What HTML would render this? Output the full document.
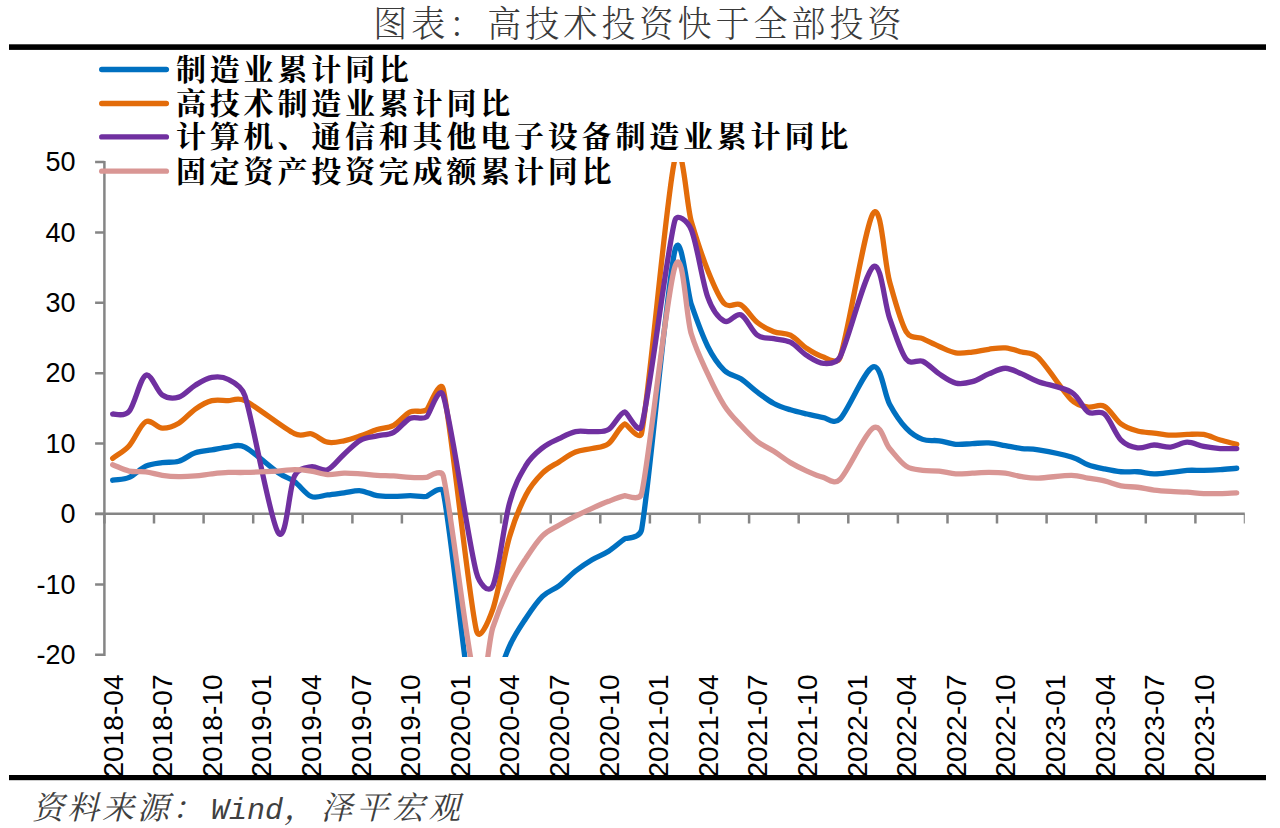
<!DOCTYPE html>
<html lang="zh-CN"><head><meta charset="utf-8"><title>图表：高技术投资快于全部投资</title>
<style>html,body{margin:0;padding:0;background:#fff}body{width:1280px;height:828px;overflow:hidden}svg{display:block}.num{font-family:"Liberation Sans",sans-serif;fill:#000}.kai{font-family:"Liberation Serif","Noto Serif CJK SC",serif}</style></head><body>
<svg width="1280" height="828" viewBox="0 0 1280 828">
<rect width="1280" height="828" fill="#fff"/>
<text class="kai" transform="translate(373.2 36.7) scale(1 1.06)" font-size="34" font-weight="300" fill="#3a3a3a" letter-spacing="4.05">图表：高技术投资快于全部投资</text>
<rect x="9" y="44.3" width="1257" height="5.6" fill="#000"/>
<rect x="9" y="775" width="1257" height="5.2" fill="#000"/>
<text class="kai" y="819" font-size="32" font-style="italic" fill="#404040" letter-spacing="3.0"><tspan x="32">资料来源：</tspan><tspan x="211" font-family="Liberation Mono,monospace" font-size="30" letter-spacing="0">Wind</tspan><tspan x="284">，</tspan><tspan x="320.5" letter-spacing="3.9">泽平宏观</tspan></text>
<clipPath id="axclip"><rect x="0" y="0" width="1244.8" height="828"/></clipPath>
<g stroke="#858585" stroke-width="2.5" fill="none" clip-path="url(#axclip)">
<path d="M104.4 161V656"/>
<path d="M95.1 513.8H1246.0"/>
<path d="M95.1 654.8H104.4M95.1 584.4H104.4M95.1 514.0H104.4M95.1 443.6H104.4M95.1 373.2H104.4M95.1 302.8H104.4M95.1 232.4H104.4M95.1 162.0H104.4M104.4 514.0V523.6M154.0 514.0V523.6M203.6 514.0V523.6M253.2 514.0V523.6M302.8 514.0V523.6M352.4 514.0V523.6M401.9 514.0V523.6M451.5 514.0V523.6M501.1 514.0V523.6M550.7 514.0V523.6M600.3 514.0V523.6M649.9 514.0V523.6M699.5 514.0V523.6M749.1 514.0V523.6M798.7 514.0V523.6M848.3 514.0V523.6M897.9 514.0V523.6M947.5 514.0V523.6M997.0 514.0V523.6M1046.6 514.0V523.6M1096.2 514.0V523.6M1145.8 514.0V523.6M1195.4 514.0V523.6M1245.0 514.0V523.6"/>
</g>
<g class="num" font-size="27" text-anchor="end">
<text x="75.5" y="663.9">-20</text>
<text x="75.5" y="593.5">-10</text>
<text x="75.5" y="523.1">0</text>
<text x="75.5" y="452.7">10</text>
<text x="75.5" y="382.3">20</text>
<text x="75.5" y="311.9">30</text>
<text x="75.5" y="241.5">40</text>
<text x="75.5" y="171.1">50</text>
</g>
<g class="num" font-size="27.5">
<text transform="translate(122.7 777.5) rotate(-90)" textLength="103" lengthAdjust="spacingAndGlyphs">2018-04</text>
<text transform="translate(172.3 777.5) rotate(-90)" textLength="103" lengthAdjust="spacingAndGlyphs">2018-07</text>
<text transform="translate(221.8 777.5) rotate(-90)" textLength="103" lengthAdjust="spacingAndGlyphs">2018-10</text>
<text transform="translate(271.4 777.5) rotate(-90)" textLength="103" lengthAdjust="spacingAndGlyphs">2019-01</text>
<text transform="translate(321.0 777.5) rotate(-90)" textLength="103" lengthAdjust="spacingAndGlyphs">2019-04</text>
<text transform="translate(370.6 777.5) rotate(-90)" textLength="103" lengthAdjust="spacingAndGlyphs">2019-07</text>
<text transform="translate(420.2 777.5) rotate(-90)" textLength="103" lengthAdjust="spacingAndGlyphs">2019-10</text>
<text transform="translate(469.8 777.5) rotate(-90)" textLength="103" lengthAdjust="spacingAndGlyphs">2020-01</text>
<text transform="translate(519.4 777.5) rotate(-90)" textLength="103" lengthAdjust="spacingAndGlyphs">2020-04</text>
<text transform="translate(569.0 777.5) rotate(-90)" textLength="103" lengthAdjust="spacingAndGlyphs">2020-07</text>
<text transform="translate(618.6 777.5) rotate(-90)" textLength="103" lengthAdjust="spacingAndGlyphs">2020-10</text>
<text transform="translate(668.2 777.5) rotate(-90)" textLength="103" lengthAdjust="spacingAndGlyphs">2021-01</text>
<text transform="translate(717.8 777.5) rotate(-90)" textLength="103" lengthAdjust="spacingAndGlyphs">2021-04</text>
<text transform="translate(767.4 777.5) rotate(-90)" textLength="103" lengthAdjust="spacingAndGlyphs">2021-07</text>
<text transform="translate(816.9 777.5) rotate(-90)" textLength="103" lengthAdjust="spacingAndGlyphs">2021-10</text>
<text transform="translate(866.5 777.5) rotate(-90)" textLength="103" lengthAdjust="spacingAndGlyphs">2022-01</text>
<text transform="translate(916.1 777.5) rotate(-90)" textLength="103" lengthAdjust="spacingAndGlyphs">2022-04</text>
<text transform="translate(965.7 777.5) rotate(-90)" textLength="103" lengthAdjust="spacingAndGlyphs">2022-07</text>
<text transform="translate(1015.3 777.5) rotate(-90)" textLength="103" lengthAdjust="spacingAndGlyphs">2022-10</text>
<text transform="translate(1064.9 777.5) rotate(-90)" textLength="103" lengthAdjust="spacingAndGlyphs">2023-01</text>
<text transform="translate(1114.5 777.5) rotate(-90)" textLength="103" lengthAdjust="spacingAndGlyphs">2023-04</text>
<text transform="translate(1164.1 777.5) rotate(-90)" textLength="103" lengthAdjust="spacingAndGlyphs">2023-07</text>
<text transform="translate(1213.7 777.5) rotate(-90)" textLength="103" lengthAdjust="spacingAndGlyphs">2023-10</text>
</g>
<clipPath id="plot"><rect x="104.4" y="162" width="1140.6" height="495"/></clipPath>
<g clip-path="url(#plot)" fill="none" stroke-width="5.3" stroke-linecap="round" stroke-linejoin="round">
<path stroke="#0070C0" d="M112.67 480.21C118.18 479.27 123.69 479.74 129.20 477.39C134.71 475.05 140.22 468.59 145.73 466.13C151.24 463.66 156.75 463.43 162.26 462.61C167.77 461.79 173.28 462.84 178.79 461.20C184.30 459.56 189.81 454.63 195.32 452.75C200.83 450.87 206.34 450.87 211.85 449.94C217.36 449.00 222.87 447.59 228.38 447.12C233.28 446.70 237.55 443.36 244.91 447.12C253.17 451.34 269.70 466.71 277.97 472.46C285.73 477.86 289.33 477.87 294.50 481.62C300.01 485.61 305.52 494.17 311.03 496.40C316.54 498.63 322.05 495.58 327.56 494.99C333.07 494.41 338.58 493.58 344.09 492.88C349.60 492.18 355.11 490.30 360.62 490.77C366.13 491.24 371.64 494.76 377.15 495.70C382.66 496.63 388.17 496.40 393.68 496.40C399.19 496.40 404.70 495.70 410.21 495.70C415.72 495.70 421.23 496.99 426.74 496.40C427.90 496.28 441.54 483.82 443.27 492.18C451.54 532.07 468.07 702.55 476.33 735.76C482.05 758.73 489.05 701.71 492.87 691.41C498.38 676.51 503.89 658.55 509.40 646.35C514.91 634.15 520.42 626.52 525.93 618.19C531.44 609.86 536.95 601.77 542.46 596.37C547.97 590.97 553.48 590.03 558.99 585.81C564.50 581.58 570.01 575.37 575.52 571.02C581.03 566.68 586.54 563.05 592.05 559.76C597.56 556.47 603.07 554.83 608.58 551.31C614.09 547.79 619.60 542.28 625.11 538.64C626.18 537.93 640.03 538.80 641.64 529.49C649.90 481.62 666.43 288.95 674.70 251.41C680.65 224.39 687.27 292.81 691.23 304.21C696.74 320.05 702.25 335.42 707.76 346.45C713.27 357.48 718.78 364.99 724.29 370.38C729.80 375.78 735.31 375.19 740.82 378.83C746.33 382.47 751.84 388.10 757.35 392.21C762.86 396.31 768.37 400.54 773.88 403.47C779.39 406.41 784.90 408.05 790.41 409.81C795.92 411.57 801.43 412.74 806.94 414.03C812.45 415.32 817.96 416.73 823.47 417.55C827.34 418.13 834.20 424.89 840.00 418.96C848.27 410.51 864.80 369.33 873.07 366.86C881.33 364.40 884.09 393.97 889.60 404.18C895.11 414.38 900.62 422.25 906.13 428.11C911.64 433.98 917.15 437.26 922.66 439.38C928.17 441.49 933.68 439.96 939.19 440.78C944.70 441.61 950.21 443.83 955.72 444.30C961.23 444.77 966.74 443.83 972.25 443.60C977.76 443.37 983.27 442.54 988.78 442.90C994.29 443.25 999.80 444.77 1005.31 445.71C1010.82 446.65 1016.33 447.82 1021.84 448.53C1027.29 449.22 1030.19 448.54 1038.37 449.94C1046.63 451.34 1063.17 454.51 1071.43 456.98C1079.70 459.44 1082.45 462.73 1087.96 464.72C1093.47 466.71 1098.98 467.77 1104.49 468.94C1110.00 470.12 1115.51 471.29 1121.02 471.76C1126.53 472.23 1132.04 471.41 1137.55 471.76C1143.06 472.11 1148.57 473.75 1154.08 473.87C1159.59 473.99 1165.10 473.05 1170.61 472.46C1176.12 471.88 1181.63 470.70 1187.14 470.35C1192.65 470.00 1198.16 470.47 1203.67 470.35C1209.18 470.23 1214.69 470.00 1220.20 469.65C1225.71 469.30 1231.22 468.71 1236.73 468.24"/>
<path stroke="#E36C0A" d="M112.67 458.38C118.18 454.16 123.69 451.81 129.20 445.71C134.71 439.61 140.22 424.71 145.73 421.78C151.24 418.84 156.75 427.88 162.26 428.11C167.77 428.35 173.28 426.35 178.79 423.18C184.30 420.02 189.81 412.86 195.32 409.10C200.83 405.35 206.34 402.06 211.85 400.66C217.36 399.25 222.87 400.66 228.38 400.66C232.07 400.66 237.52 396.96 244.91 400.66C255.93 406.17 283.48 428.23 294.50 433.74C301.89 437.44 307.33 432.80 311.03 433.74C316.54 435.15 322.05 441.02 327.56 442.19C333.07 443.37 338.58 441.84 344.09 440.78C349.60 439.73 355.11 437.73 360.62 435.86C366.13 433.98 371.64 431.28 377.15 429.52C382.66 427.76 388.17 428.23 393.68 425.30C399.19 422.36 404.70 414.50 410.21 411.92C415.72 409.34 421.23 413.56 426.74 409.81C428.67 408.50 440.39 376.58 443.27 389.39C451.54 426.12 468.07 593.55 476.33 630.16C479.29 643.24 488.37 621.67 492.87 609.04C498.38 593.55 503.89 556.24 509.40 537.23C514.91 518.22 520.42 505.67 525.93 494.99C531.44 484.31 536.95 478.68 542.46 473.17C547.97 467.65 553.48 465.42 558.99 461.90C564.50 458.38 570.01 454.28 575.52 452.05C581.03 449.82 586.54 449.94 592.05 448.53C597.56 447.12 603.07 447.71 608.58 443.60C614.09 439.49 619.60 425.65 625.11 423.89C626.27 423.52 639.89 442.33 641.64 433.04C649.90 389.04 666.43 195.21 674.70 159.89C681.93 129.00 686.41 205.03 691.23 221.14C696.74 239.56 702.25 256.69 707.76 270.42C713.27 284.14 718.78 297.75 724.29 303.50C729.80 309.25 735.31 301.74 740.82 304.91C746.33 308.08 751.84 318.05 757.35 322.51C762.86 326.97 768.37 329.55 773.88 331.66C779.39 333.78 784.90 332.37 790.41 335.18C795.92 338.00 801.43 344.92 806.94 348.56C812.45 352.20 817.96 355.48 823.47 357.01C825.27 357.51 837.30 365.53 840.00 357.71C848.27 333.78 864.80 226.06 873.07 213.39C881.33 200.72 884.09 261.97 889.60 281.68C895.11 301.39 900.62 322.16 906.13 331.66C910.63 339.44 918.15 336.69 922.66 338.70C928.17 341.17 933.68 344.10 939.19 346.45C944.70 348.79 950.21 351.85 955.72 352.78C961.23 353.72 966.74 352.67 972.25 352.08C977.76 351.49 983.27 349.97 988.78 349.26C994.29 348.56 999.80 347.39 1005.31 347.86C1010.82 348.33 1016.33 350.44 1021.84 352.08C1026.03 353.33 1032.09 351.65 1038.37 357.71C1046.63 365.69 1063.17 391.74 1071.43 399.95C1077.80 406.28 1083.71 406.18 1087.96 406.99C1093.47 408.05 1098.98 403.47 1104.49 406.29C1110.00 409.10 1115.51 419.78 1121.02 423.89C1126.53 427.99 1132.04 429.40 1137.55 430.93C1143.06 432.45 1148.57 432.34 1154.08 433.04C1159.59 433.74 1165.10 434.92 1170.61 435.15C1176.12 435.39 1181.63 434.57 1187.14 434.45C1192.65 434.33 1198.16 433.51 1203.67 434.45C1209.18 435.39 1214.69 438.44 1220.20 440.08C1225.71 441.72 1231.22 442.90 1236.73 444.30"/>
<path stroke="#7030A0" d="M112.67 414.03C115.39 413.57 123.75 417.59 129.20 411.22C134.71 404.76 140.22 378.01 145.73 375.31C151.24 372.61 156.75 391.39 162.26 395.02C167.77 398.66 173.28 398.78 178.79 397.14C184.30 395.49 189.81 388.45 195.32 385.17C200.83 381.88 206.34 378.36 211.85 377.42C217.36 376.49 222.87 376.49 228.38 379.54C230.76 380.85 241.34 384.72 244.91 395.73C253.17 421.19 269.70 518.93 277.97 532.30C286.23 545.68 288.99 486.90 294.50 475.98C298.76 467.55 306.77 467.65 311.03 466.83C316.54 465.78 322.05 471.76 327.56 469.65C333.07 467.54 338.58 459.09 344.09 454.16C349.60 449.23 355.11 443.13 360.62 440.08C366.13 437.03 371.64 437.15 377.15 435.86C382.66 434.57 388.17 435.27 393.68 432.34C399.19 429.40 404.70 420.84 410.21 418.26C415.72 415.67 421.23 420.60 426.74 416.85C429.46 415.00 439.20 382.95 443.27 395.73C451.54 421.66 468.07 540.75 476.33 572.43C479.02 582.72 488.27 595.40 492.87 585.81C498.38 574.31 503.89 523.50 509.40 503.44C514.88 483.45 520.44 474.66 525.93 465.42C531.44 456.15 536.95 452.28 542.46 447.82C547.97 443.37 553.48 441.37 558.99 438.67C564.50 435.97 570.01 432.81 575.52 431.63C581.03 430.46 586.54 431.98 592.05 431.63C597.56 431.28 603.07 432.81 608.58 429.52C614.09 426.23 619.60 412.51 625.11 411.92C626.93 411.73 638.91 436.51 641.64 426.00C649.90 394.20 666.43 253.87 674.70 221.14C676.97 212.14 687.53 221.07 691.23 229.58C696.74 242.26 702.25 281.91 707.76 297.17C712.70 310.85 719.35 318.47 724.29 321.10C729.80 324.04 735.31 312.42 740.82 314.77C746.33 317.11 751.84 331.19 757.35 335.18C762.86 339.17 768.37 337.53 773.88 338.70C779.39 339.88 784.90 339.41 790.41 342.22C795.92 345.04 801.43 352.08 806.94 355.60C812.45 359.12 817.96 363.11 823.47 363.34C826.17 363.46 835.96 364.88 840.00 357.01C848.27 340.93 864.80 273.35 873.07 266.90C881.33 260.44 884.09 302.92 889.60 318.29C895.11 333.66 900.62 351.96 906.13 359.12C911.21 365.72 917.57 358.96 922.66 361.23C928.17 363.70 933.68 370.27 939.19 373.90C944.70 377.54 950.21 381.77 955.72 383.06C961.23 384.35 966.74 383.17 972.25 381.65C977.76 380.12 983.27 376.13 988.78 373.90C994.29 371.67 999.80 368.27 1005.31 368.27C1010.82 368.27 1016.33 371.67 1021.84 373.90C1027.35 376.13 1030.10 378.60 1038.37 381.65C1046.63 384.70 1063.17 387.16 1071.43 392.21C1079.70 397.25 1082.45 408.28 1087.96 411.92C1093.47 415.56 1098.98 409.34 1104.49 414.03C1110.00 418.73 1115.51 434.45 1121.02 440.08C1126.53 445.71 1132.04 447.00 1137.55 447.82C1143.06 448.65 1148.57 445.13 1154.08 445.01C1159.59 444.89 1165.10 447.59 1170.61 447.12C1176.12 446.65 1181.63 442.31 1187.14 442.19C1192.65 442.07 1198.16 445.36 1203.67 446.42C1209.18 447.47 1214.69 448.18 1220.20 448.53C1225.71 448.88 1231.22 448.53 1236.73 448.53"/>
<path stroke="#D99694" d="M112.67 464.72C118.18 466.83 123.69 469.88 129.20 471.06C134.71 472.23 140.22 471.06 145.73 471.76C151.24 472.46 156.75 474.46 162.26 475.28C167.77 476.10 173.28 476.57 178.79 476.69C184.30 476.81 189.81 476.45 195.32 475.98C200.83 475.51 206.34 474.46 211.85 473.87C217.36 473.29 222.87 472.70 228.38 472.46C233.89 472.23 236.65 472.70 244.91 472.46C253.17 472.23 269.70 471.53 277.97 471.06C286.23 470.59 288.99 469.65 294.50 469.65C300.01 469.65 305.52 470.23 311.03 471.06C316.54 471.88 322.05 474.22 327.56 474.58C333.07 474.93 338.58 473.29 344.09 473.17C349.60 473.05 355.11 473.52 360.62 473.87C366.13 474.22 371.64 474.93 377.15 475.28C382.66 475.63 388.17 475.63 393.68 475.98C399.19 476.34 404.70 477.16 410.21 477.39C415.72 477.63 421.23 477.63 426.74 477.39C428.02 477.34 441.36 467.91 443.27 475.98C451.54 510.83 468.07 661.25 476.33 686.48C484.60 711.71 487.36 644.01 492.87 627.34C498.38 610.68 503.89 598.01 509.40 586.51C514.91 575.01 520.42 566.80 525.93 558.35C531.44 549.90 536.95 541.34 542.46 535.82C547.97 530.31 553.48 528.55 558.99 525.26C564.50 521.98 570.01 518.93 575.52 516.11C581.03 513.30 586.54 510.83 592.05 508.37C597.56 505.90 603.07 503.44 608.58 501.33C614.09 499.22 619.60 496.99 625.11 495.70C626.29 495.42 639.87 501.73 641.64 493.58C649.90 455.57 666.43 294.23 674.70 267.60C682.97 240.97 685.72 316.06 691.23 333.78C696.74 351.49 702.25 361.94 707.76 373.90C713.27 385.87 718.78 397.02 724.29 405.58C729.80 414.15 735.31 419.31 740.82 425.30C746.33 431.28 751.84 437.15 757.35 441.49C762.86 445.83 768.37 447.82 773.88 451.34C779.39 454.86 784.90 459.32 790.41 462.61C795.92 465.89 801.43 468.59 806.94 471.06C812.45 473.52 817.96 475.98 823.47 477.39C827.41 478.40 834.09 485.38 840.00 479.50C848.27 471.29 864.80 433.27 873.07 428.11C881.33 422.95 884.09 442.19 889.60 448.53C895.11 454.86 900.62 462.49 906.13 466.13C911.64 469.77 917.15 469.53 922.66 470.35C928.17 471.17 933.68 470.47 939.19 471.06C944.70 471.64 950.21 473.52 955.72 473.87C961.23 474.22 966.74 473.40 972.25 473.17C977.76 472.93 983.27 472.46 988.78 472.46C994.29 472.46 999.80 472.46 1005.31 473.17C1010.82 473.87 1016.33 475.87 1021.84 476.69C1027.35 477.51 1030.10 478.33 1038.37 478.10C1046.63 477.86 1063.17 475.28 1071.43 475.28C1079.70 475.28 1082.45 477.16 1087.96 478.10C1093.47 479.03 1098.98 479.62 1104.49 480.91C1110.00 482.20 1115.51 484.78 1121.02 485.84C1126.53 486.90 1132.04 486.54 1137.55 487.25C1143.06 487.95 1148.57 489.36 1154.08 490.06C1159.59 490.77 1165.10 491.12 1170.61 491.47C1176.12 491.82 1181.63 491.82 1187.14 492.18C1192.65 492.53 1198.16 493.35 1203.67 493.58C1209.18 493.82 1214.69 493.70 1220.20 493.58C1225.71 493.47 1231.22 493.11 1236.73 492.88"/>
</g>
<g class="kai" font-size="30" font-weight="700" fill="#000" letter-spacing="3.8">
<path d="M101.7 69.5H166.4" stroke="#0070C0" stroke-width="5.3" stroke-linecap="round"/>
<text x="176" y="80.0">制造业累计同比</text>
<path d="M101.7 103.5H166.4" stroke="#E36C0A" stroke-width="5.3" stroke-linecap="round"/>
<text x="176" y="114.0">高技术制造业累计同比</text>
<path d="M101.7 136.9H166.4" stroke="#7030A0" stroke-width="5.3" stroke-linecap="round"/>
<text x="176" y="147.4">计算机、通信和其他电子设备制造业累计同比</text>
<path d="M101.7 171.2H166.4" stroke="#D99694" stroke-width="5.3" stroke-linecap="round"/>
<text x="176" y="181.7">固定资产投资完成额累计同比</text>
</g>
</svg></body></html>
